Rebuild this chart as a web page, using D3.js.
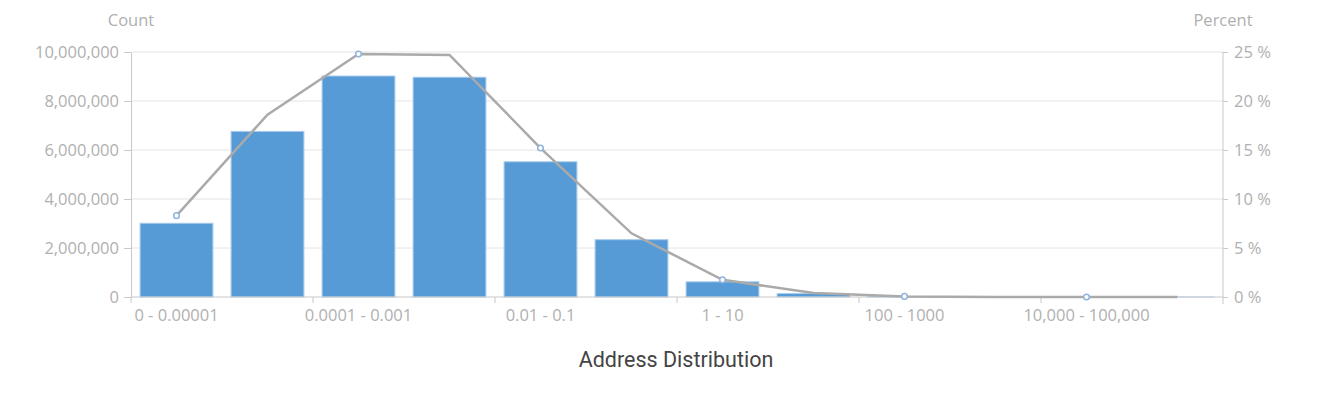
<!DOCTYPE html>
<html>
<head>
<meta charset="utf-8">
<script src="https://cdn.jsdelivr.net/npm/d3@7"></script>
<style>
  body { margin: 0; background: #fff; }
  .axis text { font-family: "Open Sans", sans-serif; font-size: 16.5px; fill: #b0b0b0; }
  .axis path, .axis line { stroke: #c8c8c8; }
  .grid line { stroke: #e4e4e4; }
</style>
</head>
<body>
<svg id="chart" width="1342" height="396"></svg>
<script>
// address balance bins
const bins = ["0 - 0.00001", "0.00001 - 0.0001", "0.0001 - 0.001", "0.001 - 0.01",
  "0.01 - 0.1", "0.1 - 1", "1 - 10", "10 - 100", "100 - 1000", "1000 - 10,000",
  "10,000 - 100,000", "100,000 - 1,000,000"];
const counts = [3010000, 6760000, 9020000, 8970000, 5520000, 2340000,
  620000, 140000, 20000, 3000, 400, 50];
const percents = [8.3, 18.6, 24.8, 24.7, 15.2, 6.5, 1.75, 0.4, 0.06, 0.01, 0, 0];
const countTicks = [0, 2000000, 4000000, 6000000, 8000000, 10000000];
const pctTicks = [0, 5, 10, 15, 20, 25];

const svg = d3.select("#chart");
const plotLeft = 131, plotRight = 1223, plotTop = 52, plotBottom = 297;

const x = d3.scaleBand().domain(bins).range([plotLeft, plotRight])
  .paddingInner(0.2).paddingOuter(0.1);
const y = d3.scaleLinear().domain([0, 10000000]).range([plotBottom, plotTop]);
const yR = d3.scaleLinear().domain([0, 25]).range([plotBottom, plotTop]);

// gridlines
svg.append("g").attr("class", "grid")
  .selectAll("line").data(countTicks.slice(1)).enter().append("line")
  .attr("x1", plotLeft).attr("x2", plotRight)
  .attr("y1", d => y(d)).attr("y2", d => y(d));

// bars
svg.append("g").selectAll("rect").data(counts).enter().append("rect")
  .attr("x", (d, i) => x(bins[i]))
  .attr("y", d => y(d))
  .attr("width", x.bandwidth())
  .attr("height", d => plotBottom - y(d))
  .attr("fill", "#569bd6")
  .attr("stroke", "#a9cbee")
  .attr("stroke-width", 1);

// left axis
const gl = svg.append("g").attr("class", "axis")
  .attr("transform", `translate(${plotLeft},0)`)
  .call(d3.axisLeft(y).tickValues(countTicks).tickFormat(d3.format(",")).tickSize(7).tickSizeOuter(0));
gl.selectAll("text").attr("x", -12);

// right axis
const gr = svg.append("g").attr("class", "axis")
  .attr("transform", `translate(${plotRight},0)`)
  .call(d3.axisRight(yR).tickValues(pctTicks).tickFormat(d => d + " %").tickSize(5).tickSizeOuter(0));
gr.select(".domain").attr("d", `M0,${plotTop}V${plotBottom + 7}`);
gr.selectAll("text").attr("x", 11);

// bottom axis: labels on every other bin, ticks on band edges
const gb = svg.append("g").attr("class", "axis")
  .attr("transform", `translate(0,${plotBottom})`)
  .call(d3.axisBottom(x).tickValues(bins.filter((d, i) => i % 2 === 0)).tickSize(6).tickSizeOuter(0));
gb.select(".domain").attr("d", `M${plotLeft},0H${plotRight}`);
gb.selectAll(".tick line").attr("x1", -x.step() / 2).attr("x2", -x.step() / 2);
gb.selectAll("text").attr("y", 12);

// percent line
const line = d3.line()
  .x((d, i) => x(bins[i]) + x.bandwidth() / 2)
  .y(d => yR(d));
svg.append("path").datum(percents)
  .attr("d", line)
  .attr("fill", "none")
  .attr("stroke", "#aaaaaa")
  .attr("stroke-width", 2.5);

svg.append("g").selectAll("circle")
  .data(percents.map((p, i) => [p, i]).filter(d => d[1] % 2 === 0))
  .enter().append("circle")
  .attr("cx", d => x(bins[d[1]]) + x.bandwidth() / 2)
  .attr("cy", d => yR(d[0]))
  .attr("r", 2.8)
  .attr("fill", "#fff")
  .attr("stroke", "#8fb4de")
  .attr("stroke-width", 1.5);

// titles
svg.append("text").attr("x", plotLeft).attr("y", 26)
  .attr("text-anchor", "middle")
  .style("font-family", "Open Sans, sans-serif").style("font-size", "16.5px").style("fill", "#b0b0b0")
  .text("Count");
svg.append("text").attr("x", plotRight).attr("y", 26)
  .attr("text-anchor", "middle")
  .style("font-family", "Open Sans, sans-serif").style("font-size", "16.5px").style("fill", "#b0b0b0")
  .text("Percent");
svg.append("text").attr("x", 676).attr("y", 367)
  .attr("text-anchor", "middle")
  .style("font-family", "Roboto, sans-serif").style("font-size", "21.5px").style("fill", "#444")
  .text("Address Distribution");
</script>
</body>
</html>
